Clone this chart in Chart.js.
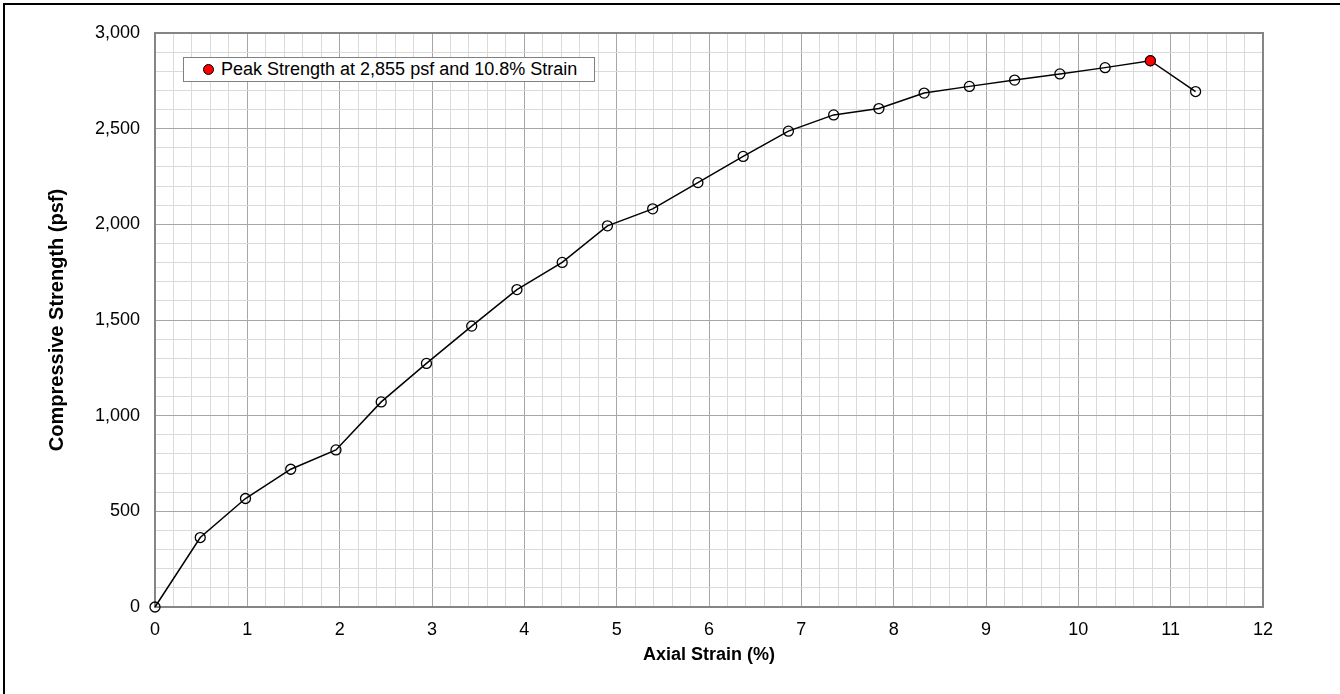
<!DOCTYPE html>
<html>
<head>
<meta charset="utf-8">
<title>Unconfined Compression</title>
<script src="https://cdn.jsdelivr.net/npm/chart.js@4.4.1/dist/chart.umd.min.js"></script>
<style>
  body { margin: 0; background: #fff; }
  #wrap { position: relative; width: 1340px; height: 694px; overflow: hidden; }
  #frame { position: absolute; left: 3px; top: 3px; width: 1400px; height: 800px;
           border-left: 2px solid #000; border-top: 2px solid #000; }
  #myChart { position: absolute; left: 0; top: 0; }
  #legend { position: absolute; left: 183px; top: 57px; width: 410px; height: 23px;
            border: 1px solid #808080; background: #fff; color: #000;
            font: 18px "Liberation Sans", Arial, sans-serif; line-height: 23px; }
  #legend .dot { position: absolute; left: 19px; top: 6px; width: 9px; height: 9px;
                 border-radius: 50%; background: #f00; border: 1px solid #000; }
  #legend .txt { position: absolute; left: 37px; top: 0; white-space: nowrap; }
</style>
</head>
<body>
<div id="wrap">
  <div id="frame"></div>
  <canvas id="myChart" width="1340" height="694"></canvas>
  <div id="legend"><span class="dot"></span><span class="txt"></span></div>
</div>
<script>
// ---- data
var strain = [0, 0.49, 0.98, 1.47, 1.96, 2.45, 2.94, 3.43, 3.92, 4.41, 4.90, 5.39,
              5.88, 6.37, 6.86, 7.35, 7.84, 8.33, 8.82, 9.31, 9.80, 10.29, 10.78, 11.27];
var strength = [0, 363, 567, 720, 821, 1072, 1273, 1468, 1659, 1801, 1992, 2081,
                2218, 2355, 2487, 2572, 2605, 2686, 2721, 2754, 2786, 2819, 2855, 2694];

var xTicks = [0, 1, 2, 3, 4, 5, 6, 7, 8, 9, 10, 11, 12];
var yTicks = [0, 500, 1000, 1500, 2000, 2500, 3000];
var xMinorStep = 0.2;
var yMinorStep = 100;

var xTitle = 'Axial Strain (%)';
var yTitle = 'Compressive Strength (psf)';

var fontFamily = '"Liberation Sans", Arial, sans-serif';

var points = strain.map(function (x, i) { return { x: x, y: strength[i] }; });
var peakIdx = strength.indexOf(Math.max.apply(null, strength));
var peakLabel = 'Peak Strength at ' + strength[peakIdx].toLocaleString('en-US') +
                ' psf and ' + strain[peakIdx].toFixed(1) + '% Strain';
document.querySelector('#legend .txt').textContent = peakLabel;

function onList(v, list) {
  return list.some(function (t) { return Math.abs(v - t) < 1e-6; });
}

// plot frame + axis titles
var decor = {
  id: 'decor',
  beforeDatasetsDraw: function (chart) {
    var a = chart.chartArea, c = chart.ctx;
    c.save();
    c.strokeStyle = '#858585';
    c.lineWidth = 2;
    c.strokeRect(a.left, a.top, a.right - a.left, a.bottom - a.top);
    c.restore();
  },
  afterDraw: function (chart) {
    var a = chart.chartArea, c = chart.ctx;
    c.save();
    c.fillStyle = '#000';
    c.textAlign = 'center';
    c.textBaseline = 'middle';
    c.font = 'bold 18px ' + fontFamily;
    c.fillText(xTitle, (a.left + a.right) / 2, 655);
    c.font = 'bold 20px ' + fontFamily;
    c.translate(57, (a.top + a.bottom) / 2);
    c.rotate(-Math.PI / 2);
    c.fillText(yTitle, 0, 0);
    c.restore();
  }
};

var ctx = document.getElementById('myChart');
var myChart = new Chart(ctx, {
  type: 'scatter',
  data: {
    datasets: [{
      label: 'Test',
      data: points,
      showLine: true,
      clip: false,
      borderColor: '#000',
      borderWidth: 1.5,
      pointRadius: 5,
      pointBorderWidth: 1.3,
      pointBorderColor: '#000',
      pointBackgroundColor: 'rgba(0,0,0,0)',
      order: 2
    }, {
      label: peakLabel,
      data: [points[peakIdx]],
      clip: false,
      pointRadius: 5,
      pointBorderWidth: 1,
      pointBorderColor: '#000',
      pointBackgroundColor: '#f00',
      order: 1
    }]
  },
  options: {
    responsive: false,
    animation: false,
    layout: { padding: { left: 0, top: 33, right: 77, bottom: 0 } },
    plugins: { legend: { display: false }, tooltip: { enabled: false } },
    scales: {
      x: {
        type: 'linear',
        min: xTicks[0],
        max: xTicks[xTicks.length - 1],
        afterFit: function (s) { s.height = 87; },
        ticks: {
          stepSize: xMinorStep,
          autoSkip: false,
          maxRotation: 0,
          padding: 12,
          color: '#000',
          font: { size: 18, family: fontFamily },
          callback: function (v) { return onList(v, xTicks) ? Math.round(v) : ''; }
        },
        grid: {
          drawTicks: false,
          lineWidth: 1,
          color: function (c) {
            return c.tick && onList(c.tick.value, xTicks) ? '#a6a6a6' : '#dadada';
          }
        },
        border: { color: '#858585', width: 2 }
      },
      y: {
        type: 'linear',
        min: yTicks[0],
        max: yTicks[yTicks.length - 1],
        afterFit: function (s) { s.width = 155; },
        ticks: {
          stepSize: yMinorStep,
          autoSkip: false,
          padding: 15,
          color: '#000',
          font: { size: 18, family: fontFamily },
          callback: function (v) { return onList(v, yTicks) ? Math.round(v).toLocaleString('en-US') : ''; }
        },
        grid: {
          drawTicks: false,
          lineWidth: 1,
          color: function (c) {
            return c.tick && onList(c.tick.value, yTicks) ? '#a6a6a6' : '#dadada';
          }
        },
        border: { color: '#858585', width: 2 }
      }
    }
  },
  plugins: [decor]
});
</script>
</body>
</html>
